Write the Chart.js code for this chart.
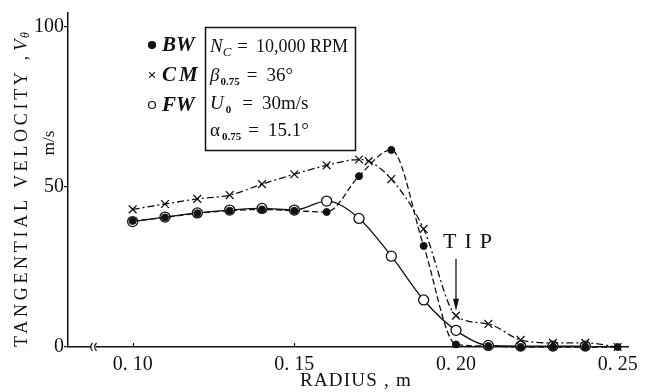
<!DOCTYPE html>
<html>
<head>
<meta charset="utf-8">
<script src="https://cdn.jsdelivr.net/npm/chart.js@4.4.1/dist/chart.umd.min.js"></script>
<style>
  html, body { margin: 0; padding: 0; background: #fff; }
</style>
</head>
<body>
<canvas id="chart" width="648" height="392"></canvas>
<script>
// radial stations (m) and tangential velocity (m/s) for each configuration
const radius = [0.10, 0.11, 0.12, 0.13, 0.14, 0.15, 0.16, 0.17, 0.18, 0.19, 0.20, 0.21, 0.22, 0.23, 0.24, 0.25];
const bwVelocity = [39.4, 40.5, 41.8, 42.6, 43.0, 42.6, 42.2, 53.4, 61.6, 31.6, 0.8, 0.3, 0, 0, 0, 0];
const fwVelocity = [39.2, 40.6, 41.9, 42.8, 43.3, 42.8, 45.6, 40.2, 28.4, 14.7, 5.2, 0.5, 0.3, 0.3, 0.3, null];
const cmRadius = [0.10, 0.11, 0.12, 0.13, 0.14, 0.15, 0.16, 0.17, 0.173, 0.18, 0.19, 0.20, 0.21, 0.22, 0.23, 0.24, 0.25];
const cmVelocity = [43.0, 44.7, 46.3, 47.5, 50.9, 54.0, 56.8, 58.6, 58.1, 52.5, 36.9, 9.8, 7.2, 2.2, 1.3, 1.3, 0];

const xTicks = [0.10, 0.15, 0.20, 0.25];
const yTicks = [0, 50, 100];
const tipRadius = 0.20;

const SERIF = '"Liberation Serif", "DejaVu Serif", serif';
const INK = '#111';

function pairs(xs, ys) {
  return xs.map((x, i) => ({ x: x, y: ys[i] }));
}

// draw a row of text pieces left to right: [text, font, dy, gapAfter]
function runs(ctx, x, y, parts) {
  parts.forEach(([txt, font, dy, gap]) => {
    ctx.font = font;
    ctx.fillText(txt, x, y + (dy || 0));
    x += ctx.measureText(txt).width + (gap || 0);
  });
}

// stretch a string over a given length with letter spacing
function spaced(ctx, txt, length) {
  ctx.letterSpacing = '0px';
  const w = ctx.measureText(txt).width;
  ctx.letterSpacing = ((length - w) / txt.length) + 'px';
}

const decorations = {
  id: 'decorations',
  afterDraw(chart) {
    const ctx = chart.ctx;
    const xs = chart.scales.x, ys = chart.scales.y;
    const area = chart.chartArea;
    ctx.save();
    ctx.fillStyle = INK;
    ctx.strokeStyle = INK;
    ctx.lineWidth = 1.2;

    // short inward ticks on the radius axis
    xTicks.slice(0, 3).forEach(v => {
      const px = Math.round(xs.getPixelForValue(v)) + 0.5;
      ctx.beginPath();
      ctx.moveTo(px, area.bottom);
      ctx.lineTo(px, area.bottom - 4);
      ctx.stroke();
    });

    // break mark on the radius axis
    const bx = area.left + 25;
    ctx.fillStyle = '#fff';
    ctx.fillRect(bx - 2, area.bottom - 2, 5, 4);
    ctx.fillStyle = INK;
    [bx - 2, bx + 2].forEach(cx => {
      ctx.beginPath();
      ctx.moveTo(cx + 1.5, area.bottom - 4);
      ctx.quadraticCurveTo(cx - 2, area.bottom, cx + 1.5, area.bottom + 4);
      ctx.stroke();
    });

    // vertical axis title
    ctx.save();
    ctx.translate(22, area.bottom);
    ctx.rotate(-Math.PI / 2);
    ctx.textAlign = 'left';
    ctx.textBaseline = 'middle';
    ctx.font = '18px ' + SERIF;
    const head = 'TANGENTIAL VELOCITY ,';
    spaced(ctx, head, 295);
    ctx.fillText(head, 0, 0);
    ctx.letterSpacing = '0px';
    ctx.font = 'italic 19px ' + SERIF;
    ctx.fillText('V', 296, 0);
    ctx.font = 'italic 12px ' + SERIF;
    ctx.fillText('θ', 309, 4);
    ctx.restore();

    ctx.save();
    ctx.translate(50, 143);
    ctx.rotate(-Math.PI / 2);
    ctx.textAlign = 'center';
    ctx.textBaseline = 'middle';
    ctx.font = '17px ' + SERIF;
    ctx.fillText('m/s', 0, 0);
    ctx.restore();

    // horizontal axis title
    ctx.save();
    ctx.textAlign = 'left';
    ctx.textBaseline = 'middle';
    ctx.font = '19px ' + SERIF;
    const xTitle = 'RADIUS , m';
    spaced(ctx, xTitle, 112);
    ctx.fillText(xTitle, 300, 381);
    ctx.restore();

    // legend markers and names
    const rows = [45, 75, 105];
    chart.data.datasets.forEach((ds, i) => {
      ctx.fillStyle = ds.pointBackgroundColor;
      ctx.strokeStyle = INK;
      Chart.helpers.drawPoint(ctx, {
        pointStyle: ds.pointStyle,
        radius: ds.legendRadius,
        borderWidth: 1.3
      }, 152, rows[i]);
    });
    ctx.fillStyle = INK;
    ctx.textAlign = 'left';
    ctx.textBaseline = 'middle';
    ctx.font = 'italic bold 21px ' + SERIF;
    chart.data.datasets.forEach((ds, i) => {
      ctx.letterSpacing = i === 1 ? '3px' : '0px';
      ctx.fillText(ds.label, 162, rows[i] + 1);
    });
    ctx.letterSpacing = '0px';

    // operating conditions box
    ctx.lineWidth = 1.5;
    ctx.strokeRect(205.5, 27.5, 150, 123);
    ctx.textBaseline = 'alphabetic';
    const big = '19px ' + SERIF;
    const ital = 'italic 19px ' + SERIF;
    const sub = 'bold 11px ' + SERIF;
    runs(ctx, 210, 52, [['N', ital, 0, 0], ['C', 'italic 13px ' + SERIF, 4, 6], ['=', big, 0, 8], ['10,000 RPM', '18px ' + SERIF]]);
    runs(ctx, 210, 81, [['β', ital, 0, 1], ['0.75', sub, 4, 7], ['=', big, 0, 9], ['36°', big]]);
    runs(ctx, 210, 109, [['U', ital, 0, 2], ['0', sub, 4, 11], ['=', big, 0, 9], ['30m/s', big]]);
    runs(ctx, 210, 136, [['α', big, 0, 2], ['0.75', sub, 4, 7], ['=', big, 0, 9], ['15.1°', big]]);

    // blade tip marker
    const tx = xs.getPixelForValue(tipRadius);
    const tipY = ys.getPixelForValue(cmVelocity[cmRadius.indexOf(tipRadius)]) - 5;
    ctx.lineWidth = 1.3;
    ctx.beginPath();
    ctx.moveTo(tx, tipY - 52);
    ctx.lineTo(tx, tipY - 8);
    ctx.stroke();
    ctx.beginPath();
    ctx.moveTo(tx - 3, tipY - 12);
    ctx.lineTo(tx, tipY);
    ctx.lineTo(tx + 3, tipY - 12);
    ctx.closePath();
    ctx.fill();
    ctx.font = '22px ' + SERIF;
    ctx.textBaseline = 'middle';
    ctx.letterSpacing = '8px';
    ctx.fillText('TIP', tx - 13, tipY - 68);
    ctx.restore();
  }
};

const ctx = document.getElementById('chart');

new Chart(ctx, {
  type: 'line',
  data: {
    datasets: [
      {
        label: 'BW',
        data: pairs(radius, bwVelocity),
        borderColor: INK,
        borderWidth: 1.3,
        borderDash: [6, 3],
        pointStyle: 'circle',
        pointRadius: 3.5,
        legendRadius: 3.5,
        pointBackgroundColor: INK,
        pointBorderColor: INK,
        pointBorderWidth: 1,
        cubicInterpolationMode: 'monotone',
        clip: false
      },
      {
        label: 'CM',
        data: pairs(cmRadius, cmVelocity),
        borderColor: INK,
        borderWidth: 1.3,
        borderDash: [7, 3, 2, 3],
        pointStyle: 'crossRot',
        pointRadius: 5.5,
        legendRadius: 4,
        pointBorderColor: INK,
        pointBackgroundColor: INK,
        pointBorderWidth: 1.3,
        cubicInterpolationMode: 'monotone',
        clip: false
      },
      {
        label: 'FW',
        data: pairs(radius, fwVelocity),
        borderColor: INK,
        borderWidth: 1.3,
        pointStyle: 'circle',
        pointRadius: 5,
        legendRadius: 3.5,
        pointBackgroundColor: '#fff',
        pointBorderColor: INK,
        pointBorderWidth: 1.3,
        cubicInterpolationMode: 'monotone',
        clip: false
      }
    ]
  },
  options: {
    responsive: false,
    animation: false,
    events: [],
    layout: { padding: { top: 13, right: 20, left: 0, bottom: 0 } },
    plugins: {
      legend: { display: false },
      tooltip: { enabled: false }
    },
    scales: {
      x: {
        type: 'linear',
        min: 0.08,
        max: 0.2532,
        afterBuildTicks: scale => { scale.ticks = xTicks.map(v => ({ value: v })); },
        afterFit: scale => { scale.height = 45; },
        grid: { display: false, drawTicks: false },
        border: { display: true, color: INK, width: 1.5 },
        ticks: {
          padding: 6,
          color: INK,
          font: { family: SERIF, size: 20 },
          maxRotation: 0,
          callback: v => v.toFixed(2).replace('.', '. ')
        }
      },
      y: {
        min: 0,
        max: 104.4,
        afterBuildTicks: scale => { scale.ticks = yTicks.map(v => ({ value: v })); },
        afterFit: scale => { scale.width = 68; },
        grid: { display: true, drawOnChartArea: false, drawTicks: true, tickLength: 4, color: INK, lineWidth: 1.2 },
        border: { display: true, color: INK, width: 1.5 },
        ticks: {
          padding: 0,
          color: INK,
          font: { family: SERIF, size: 20 }
        }
      }
    }
  },
  plugins: [decorations]
});
</script>
</body>
</html>
